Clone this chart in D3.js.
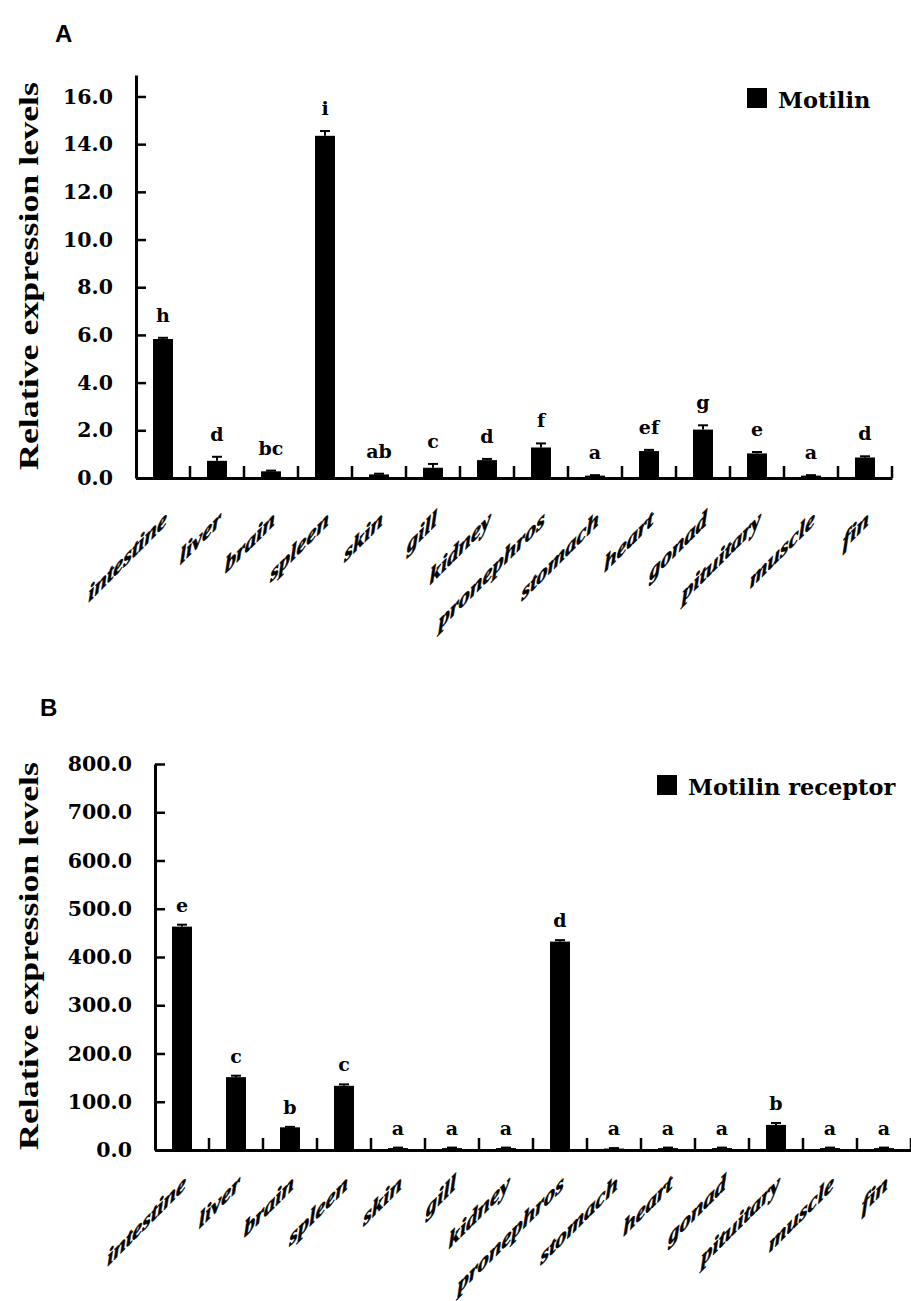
<!DOCTYPE html>
<html>
<head>
<meta charset="utf-8">
<script src="https://cdn.jsdelivr.net/npm/d3@7"></script>
<style>
  body { margin: 0; background: #fff; }
  svg { display: block; }
</style>
</head>
<body>
<script>
// tissues on the x axis (same order in both panels)
const tissues = ["intestine", "liver", "brain", "spleen", "skin", "gill", "kidney",
  "pronephros", "stomach", "heart", "gonad", "pituitary", "muscle", "fin"];

// panel A: motilin
const motilin    = [5.83, 0.72, 0.28, 14.35, 0.15, 0.43, 0.75, 1.28, 0.10, 1.13, 2.03, 1.03, 0.10, 0.86];
const motilinErr = [0.05, 0.17, 0.03, 0.20, 0.03, 0.16, 0.05, 0.17, 0.02, 0.05, 0.18, 0.06, 0.02, 0.05];
const motilinSig = ["h", "d", "bc", "i", "ab", "c", "d", "f", "a", "ef", "g", "e", "a", "d"];
const ticksA = [0, 2, 4, 6, 8, 10, 12, 14, 16];

// panel B: motilin receptor
const receptor    = [463, 151, 47, 133, 4, 4, 4, 432, 3, 4, 4, 52, 4, 4];
const receptorErr = [4, 3, 1, 3, 1, 1, 1, 3, 1, 1, 1, 4, 1, 1];
const receptorSig = ["e", "c", "b", "c", "a", "a", "a", "d", "a", "a", "a", "b", "a", "a"];
const ticksB = [0, 100, 200, 300, 400, 500, 600, 700, 800];

const svg = d3.select("body").append("svg")
    .attr("width", 911)
    .attr("height", 1301);

const serif = "'DejaVu Serif', serif";
const times = "'Liberation Serif', 'Times New Roman', serif";

function panel(o) {
  const g = svg.append("g");

  const x = d3.scaleBand()
      .domain(tissues)
      .range([o.left, o.right])
      .paddingInner(0.63)
      .paddingOuter(0.315);

  const y = d3.scaleLinear()
      .domain([0, o.yMax])
      .range([o.bottom, o.top]);

  // y axis, ticks pointing inwards
  const yAxis = g.append("g")
      .attr("transform", `translate(${o.left},0)`)
      .call(d3.axisLeft(y).tickValues(o.ticks).tickFormat(d3.format(".1f"))
        .tickSize(-10).tickSizeOuter(0).tickPadding(23));
  yAxis.select(".domain").attr("stroke-width", 3);
  yAxis.selectAll(".tick line").attr("stroke-width", 2.5);
  yAxis.selectAll(".tick text")
      .attr("font-family", serif)
      .attr("font-weight", "bold")
      .attr("font-size", 20.5)
      .attr("fill", "#000");

  // x axis with sheared category labels
  const xAxis = g.append("g")
      .attr("transform", `translate(0,${o.bottom})`)
      .call(d3.axisBottom(x).tickSize(0).tickSizeOuter(0));
  xAxis.select(".domain").attr("stroke-width", 3);
  xAxis.selectAll(".tick text")
      .attr("font-family", times)
      .attr("font-weight", "bold")
      .attr("font-style", "italic")
      .attr("font-size", 22.5)
      .attr("fill", "#000")
      .attr("stroke", "#000")
      .attr("stroke-width", 0.6)
      .attr("text-anchor", "end")
      .attr("y", 0)
      .attr("dy", 0)
      .attr("transform", `translate(4,${o.labelDrop}) skewY(-45)`);

  // category boundary ticks, pointing up
  g.append("g").selectAll("line")
    .data(d3.range(1, tissues.length + 1))
    .join("line")
      .attr("x1", i => o.left + i * x.step())
      .attr("x2", i => o.left + i * x.step())
      .attr("y1", o.bottom)
      .attr("y2", o.bottom - 12)
      .attr("stroke", "#000")
      .attr("stroke-width", 2.5);

  // bars
  g.append("g").selectAll("rect")
    .data(o.values)
    .join("rect")
      .attr("x", (d, i) => x(tissues[i]))
      .attr("y", d => y(d))
      .attr("width", x.bandwidth())
      .attr("height", d => o.bottom - y(d))
      .attr("fill", "#000");

  // error bars (upper only)
  const eb = g.append("g").attr("stroke", "#000").attr("stroke-width", 2);
  o.values.forEach((d, i) => {
    const cx = x(tissues[i]) + x.bandwidth() / 2;
    eb.append("line").attr("x1", cx).attr("x2", cx).attr("y1", y(d)).attr("y2", y(d + o.err[i]));
    eb.append("line").attr("x1", cx - 5).attr("x2", cx + 5).attr("y1", y(d + o.err[i])).attr("y2", y(d + o.err[i]));
  });

  // significance letters
  g.append("g").selectAll("text")
    .data(o.sig)
    .join("text")
      .attr("x", (d, i) => x(tissues[i]) + x.bandwidth() / 2)
      .attr("y", (d, i) => y(o.values[i] + o.err[i]) - o.sigGap)
      .attr("text-anchor", "middle")
      .attr("font-family", serif)
      .attr("font-weight", "bold")
      .attr("font-size", 19)
      .text(d => d);

  // y title
  g.append("text")
      .attr("transform", `translate(${o.titleX},${o.titleY}) rotate(-90)`)
      .attr("text-anchor", "middle")
      .attr("font-family", times)
      .attr("font-weight", "bold")
      .attr("font-size", 28)
      .attr("textLength", 388)
      .attr("lengthAdjust", "spacingAndGlyphs")
      .text("Relative expression levels");

  // legend
  g.append("rect")
      .attr("x", o.legendX).attr("y", o.legendY - 20)
      .attr("width", 20).attr("height", 20)
      .attr("fill", "#000");
  g.append("text")
      .attr("x", o.legendX + 31).attr("y", o.legendY)
      .attr("font-family", serif)
      .attr("font-weight", "bold")
      .attr("font-size", 22.5)
      .text(o.name);

  // panel letter
  g.append("text")
      .attr("x", o.letterX).attr("y", o.letterY)
      .attr("font-family", "'Liberation Sans', Arial, sans-serif")
      .attr("font-weight", "bold")
      .attr("font-size", 24)
      .text(o.letter);
}

panel({
  letter: "A", letterX: 55, letterY: 42,
  name: "Motilin",
  values: motilin, err: motilinErr, sig: motilinSig, ticks: ticksA,
  yMax: 16.9, left: 136, right: 892, top: 75, bottom: 478,
  sigGap: 16, titleX: 38, titleY: 276, legendX: 747, legendY: 108, labelDrop: 46
});

panel({
  letter: "B", letterX: 40, letterY: 716,
  name: "Motilin receptor",
  values: receptor, err: receptorErr, sig: receptorSig, ticks: ticksB,
  yMax: 800, left: 155, right: 911, top: 764, bottom: 1150,
  sigGap: 13, titleX: 38, titleY: 956, legendX: 657, legendY: 795, labelDrop: 38
});
</script>
</body>
</html>
